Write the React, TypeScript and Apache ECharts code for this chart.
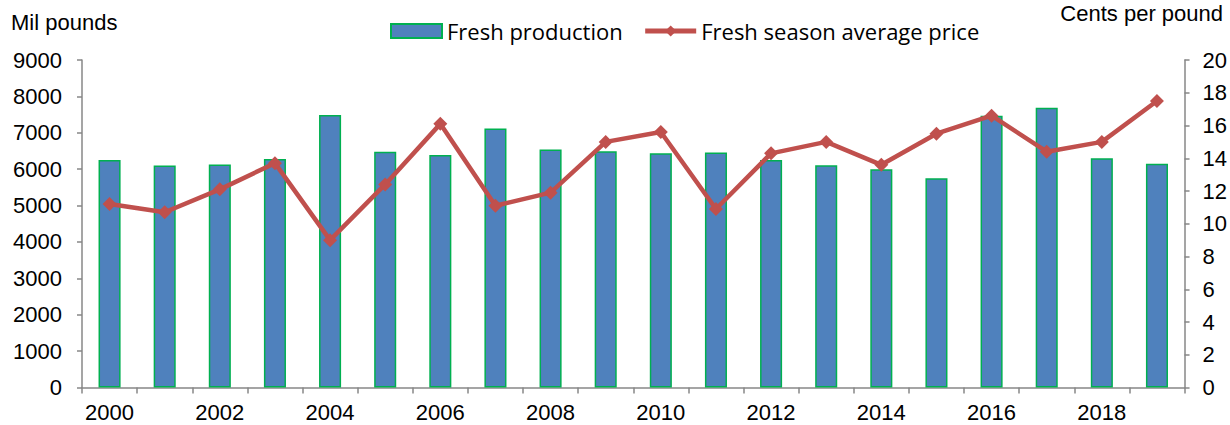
import React, { useEffect, useRef } from "react";
import * as echarts from "echarts";

const years = [
  "2000", "2001", "2002", "2003", "2004", "2005", "2006", "2007", "2008", "2009",
  "2010", "2011", "2012", "2013", "2014", "2015", "2016", "2017", "2018", "2019",
];
const freshProduction = [
  6250, 6100, 6130, 6280, 7490, 6480, 6390, 7120, 6540, 6495,
  6440, 6460, 6250, 6110, 5995, 5750, 7465, 7685, 6300, 6150,
];
const freshPrice = [
  11.2, 10.7, 12.1, 13.7, 9.0, 12.4, 16.1, 11.1, 11.9, 15.0,
  15.6, 10.9, 14.3, 15.0, 13.6, 15.5, 16.6, 14.4, 15.0, 17.5,
];
const leftTitle = "Mil pounds";
const rightTitle = "Cents per pound";
const seriesNames = ["Fresh production", "Fresh season average price"];

export default function App() {
  const ref = useRef<HTMLDivElement>(null);
  useEffect(() => {
    if (!ref.current) return;
    const chart = echarts.init(ref.current, undefined, { renderer: "svg" });
    const axisColor = "#878787";
    const labelFont = { fontFamily: "Liberation Sans", fontSize: 22, color: "#000" };
    chart.setOption({
      animation: false,
      backgroundColor: "#fff",
      grid: { left: 82, right: 45, top: 60, bottom: 37.5 },
      legend: {
        left: 385,
        top: 15,
        itemWidth: 51,
        itemHeight: 14,
        itemGap: 20,
        textStyle: { fontFamily: "Open Sans", fontSize: 22, color: "#000" },
        lineStyle: { width: 5 },
        data: [
          { name: seriesNames[0], icon: "rect" },
          { name: seriesNames[1] },
        ],
      },
      graphic: [
        {
          type: "text",
          left: 11,
          top: 11,
          style: { text: leftTitle, font: "22px 'Liberation Sans'", fill: "#000" },
        },
        {
          type: "text",
          right: 7,
          top: 2,
          style: { text: rightTitle, font: "22px 'Liberation Sans'", fill: "#000" },
        },
      ],
      xAxis: {
        type: "category",
        data: years,
        boundaryGap: true,
        axisLine: { lineStyle: { color: axisColor, width: 1.5 } },
        axisTick: { show: true, interval: 0, length: 6, lineStyle: { color: axisColor, width: 1.5 } },
        axisLabel: { interval: 1, margin: 14, ...labelFont },
        splitLine: { show: false },
      },
      yAxis: [
        {
          type: "value",
          min: 0,
          max: 9000,
          interval: 1000,
          axisLine: { show: true, lineStyle: { color: axisColor, width: 1.5 } },
          axisTick: { show: true, length: 5, lineStyle: { color: axisColor, width: 1.5 } },
          axisLabel: { margin: 20, formatter: (v: number) => String(v), ...labelFont },
          splitLine: { show: false },
        },
        {
          type: "value",
          min: 0,
          max: 20,
          interval: 2,
          position: "right",
          axisLine: { show: true, lineStyle: { color: axisColor, width: 1.5 } },
          axisTick: { show: true, length: 5, lineStyle: { color: axisColor, width: 1.5 } },
          axisLabel: { margin: 18, formatter: (v: number) => String(v), ...labelFont },
          splitLine: { show: false },
        },
      ],
      series: [
        {
          name: seriesNames[0],
          type: "bar",
          yAxisIndex: 0,
          data: freshProduction,
          barWidth: "40%",
          itemStyle: { color: "#4F81BD", borderColor: "#00B050", borderWidth: 1.5 },
        },
        {
          name: seriesNames[1],
          type: "line",
          yAxisIndex: 1,
          data: freshPrice,
          symbol: "diamond",
          symbolSize: 14,
          lineStyle: { color: "#C0504D", width: 4.5 },
          itemStyle: { color: "#C0504D" },
        },
      ],
    });
    return () => chart.dispose();
  }, []);
  return (
    <div
      ref={ref}
      style={{ position: "fixed", left: 0, top: 0, width: 1230, height: 425 }}
    />
  );
}
